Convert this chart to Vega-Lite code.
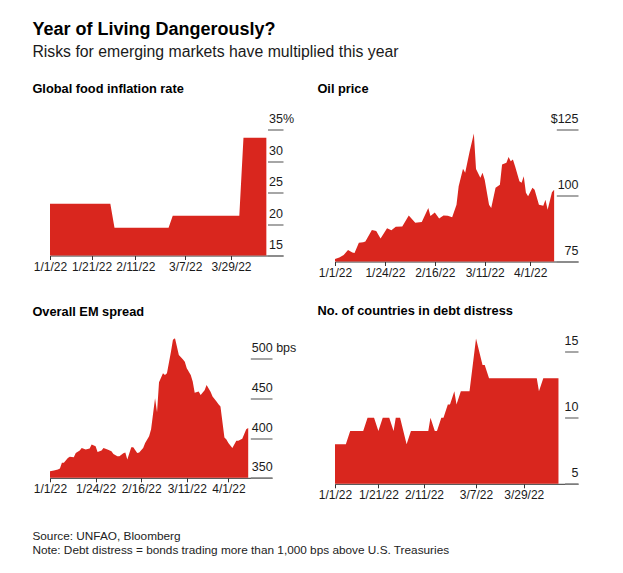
{
  "$schema": "https://vega.github.io/schema/vega-lite/v6.json",
  "background": "white",
  "padding": {"left": 32, "top": 20.5, "right": 5, "bottom": 5},
  "config": {
    "font": "Liberation Sans",
    "view": {"stroke": null},
    "axis": {"labelFont": "Liberation Sans", "labelFontSize": 12, "labelColor": "#1a1a1a", "grid": false, "title": null},
    "axisX": {"tickSize": 4, "tickColor": "#333", "domainColor": "#333", "labelPadding": 2, "labelFlush": false, "labelOverlap": false, "labelBound": false, "labelExpr": "utcFormat(datum.value, '%-m/%-d/%y')"},
    "axisY": {"orient": "right", "tickColor": "#888", "tickWidth": 1.5, "domain": false, "labelBaseline": "alphabetic", "labelOffset": -7, "labelFontSize": 12.5},
    "title": {"font": "Liberation Sans"}
  },
  "datasets": {
    "food": [
      {"date": "2022-01-01", "value": 23.2}, {"date": "2022-01-30", "value": 23.2},
      {"date": "2022-02-01", "value": 19.4}, {"date": "2022-02-27", "value": 19.4},
      {"date": "2022-03-01", "value": 21.3}, {"date": "2022-04-02", "value": 21.3},
      {"date": "2022-04-04", "value": 33.7}, {"date": "2022-04-15", "value": 33.7}
    ],
    "oil": [
      {"date": "2022-01-01", "value": 75.9}, {"date": "2022-01-03", "value": 76.5}, {"date": "2022-01-05", "value": 77.5},
      {"date": "2022-01-07", "value": 79.4}, {"date": "2022-01-09", "value": 78.4}, {"date": "2022-01-10", "value": 78.2},
      {"date": "2022-01-12", "value": 82.1}, {"date": "2022-01-14", "value": 82.3}, {"date": "2022-01-15", "value": 82.6},
      {"date": "2022-01-18", "value": 86.9}, {"date": "2022-01-20", "value": 86.6}, {"date": "2022-01-22", "value": 83.7},
      {"date": "2022-01-25", "value": 87.6}, {"date": "2022-01-27", "value": 86.8}, {"date": "2022-01-29", "value": 88.2},
      {"date": "2022-02-01", "value": 88.3}, {"date": "2022-02-04", "value": 92.4}, {"date": "2022-02-07", "value": 89.7},
      {"date": "2022-02-10", "value": 90.0}, {"date": "2022-02-13", "value": 95.3}, {"date": "2022-02-14", "value": 92.2},
      {"date": "2022-02-16", "value": 93.6}, {"date": "2022-02-18", "value": 91.3}, {"date": "2022-02-20", "value": 92.4},
      {"date": "2022-02-22", "value": 92.3}, {"date": "2022-02-24", "value": 91.8}, {"date": "2022-02-26", "value": 96.5},
      {"date": "2022-02-27", "value": 103.5}, {"date": "2022-03-01", "value": 110.1}, {"date": "2022-03-02", "value": 108.6},
      {"date": "2022-03-04", "value": 116.5}, {"date": "2022-03-06", "value": 123.5}, {"date": "2022-03-07", "value": 110.0},
      {"date": "2022-03-09", "value": 106.7}, {"date": "2022-03-10", "value": 108.6}, {"date": "2022-03-11", "value": 106.0},
      {"date": "2022-03-13", "value": 96.5}, {"date": "2022-03-14", "value": 95.3}, {"date": "2022-03-16", "value": 102.9},
      {"date": "2022-03-18", "value": 104.1}, {"date": "2022-03-19", "value": 111.7}, {"date": "2022-03-21", "value": 112.4},
      {"date": "2022-03-22", "value": 114.6}, {"date": "2022-03-23", "value": 113.0}, {"date": "2022-03-24", "value": 113.6},
      {"date": "2022-03-25", "value": 111.1}, {"date": "2022-03-27", "value": 105.4}, {"date": "2022-03-28", "value": 104.8},
      {"date": "2022-03-29", "value": 107.3}, {"date": "2022-03-30", "value": 101.0}, {"date": "2022-03-31", "value": 99.7},
      {"date": "2022-04-02", "value": 102.9}, {"date": "2022-04-03", "value": 102.2}, {"date": "2022-04-05", "value": 96.5},
      {"date": "2022-04-07", "value": 96.1}, {"date": "2022-04-08", "value": 98.4}, {"date": "2022-04-09", "value": 94.6},
      {"date": "2022-04-11", "value": 101.2}, {"date": "2022-04-12", "value": 102.2}
    ],
    "em": [
      {"date": "2022-01-01", "value": 358.3}, {"date": "2022-01-03", "value": 359.2}, {"date": "2022-01-05", "value": 360.4},
      {"date": "2022-01-06", "value": 361.7}, {"date": "2022-01-07", "value": 368.8}, {"date": "2022-01-08", "value": 368.8},
      {"date": "2022-01-10", "value": 375.0}, {"date": "2022-01-11", "value": 376.3}, {"date": "2022-01-13", "value": 375.8},
      {"date": "2022-01-14", "value": 381.3}, {"date": "2022-01-16", "value": 384.2}, {"date": "2022-01-17", "value": 387.5},
      {"date": "2022-01-19", "value": 385.4}, {"date": "2022-01-21", "value": 386.7}, {"date": "2022-01-22", "value": 391.7},
      {"date": "2022-01-24", "value": 389.6}, {"date": "2022-01-25", "value": 382.5}, {"date": "2022-01-27", "value": 384.2},
      {"date": "2022-01-28", "value": 387.5}, {"date": "2022-01-30", "value": 385.4}, {"date": "2022-02-01", "value": 383.3},
      {"date": "2022-02-02", "value": 380.0}, {"date": "2022-02-04", "value": 377.1}, {"date": "2022-02-05", "value": 377.1},
      {"date": "2022-02-07", "value": 380.8}, {"date": "2022-02-08", "value": 381.7}, {"date": "2022-02-09", "value": 372.9},
      {"date": "2022-02-11", "value": 388.3}, {"date": "2022-02-12", "value": 388.3}, {"date": "2022-02-14", "value": 381.3},
      {"date": "2022-02-15", "value": 381.7}, {"date": "2022-02-17", "value": 387.5}, {"date": "2022-02-18", "value": 393.8},
      {"date": "2022-02-20", "value": 402.1}, {"date": "2022-02-21", "value": 411.0}, {"date": "2022-02-23", "value": 450.0},
      {"date": "2022-02-24", "value": 432.5}, {"date": "2022-02-25", "value": 470.0}, {"date": "2022-02-27", "value": 481.3},
      {"date": "2022-02-28", "value": 479.2}, {"date": "2022-03-01", "value": 481.3}, {"date": "2022-03-03", "value": 508.0},
      {"date": "2022-03-04", "value": 523.0}, {"date": "2022-03-05", "value": 526.0}, {"date": "2022-03-07", "value": 504.2},
      {"date": "2022-03-09", "value": 499.0}, {"date": "2022-03-10", "value": 495.8}, {"date": "2022-03-11", "value": 487.5},
      {"date": "2022-03-13", "value": 479.0}, {"date": "2022-03-14", "value": 471.0}, {"date": "2022-03-15", "value": 457.0},
      {"date": "2022-03-17", "value": 458.3}, {"date": "2022-03-18", "value": 454.0}, {"date": "2022-03-20", "value": 460.0},
      {"date": "2022-03-21", "value": 466.7}, {"date": "2022-03-23", "value": 458.0}, {"date": "2022-03-24", "value": 452.0},
      {"date": "2022-03-26", "value": 445.8}, {"date": "2022-03-27", "value": 442.5}, {"date": "2022-03-28", "value": 439.6},
      {"date": "2022-03-30", "value": 400.5}, {"date": "2022-03-31", "value": 398.0}, {"date": "2022-04-01", "value": 393.8},
      {"date": "2022-04-03", "value": 387.5}, {"date": "2022-04-05", "value": 396.7}, {"date": "2022-04-06", "value": 396.7},
      {"date": "2022-04-08", "value": 399.2}, {"date": "2022-04-09", "value": 405.0}, {"date": "2022-04-10", "value": 411.0},
      {"date": "2022-04-11", "value": 412.5}
    ],
    "debt": [
      {"date": "2022-01-01", "value": 8}, {"date": "2022-01-06", "value": 8}, {"date": "2022-01-08", "value": 9},
      {"date": "2022-01-14", "value": 9}, {"date": "2022-01-16", "value": 10}, {"date": "2022-01-19", "value": 10},
      {"date": "2022-01-21", "value": 9}, {"date": "2022-01-23", "value": 10}, {"date": "2022-01-26", "value": 10},
      {"date": "2022-01-28", "value": 9}, {"date": "2022-01-29", "value": 10}, {"date": "2022-01-31", "value": 10},
      {"date": "2022-02-03", "value": 8}, {"date": "2022-02-05", "value": 9}, {"date": "2022-02-13", "value": 9},
      {"date": "2022-02-14", "value": 10}, {"date": "2022-02-16", "value": 9}, {"date": "2022-02-17", "value": 9},
      {"date": "2022-02-19", "value": 10}, {"date": "2022-02-20", "value": 10}, {"date": "2022-02-22", "value": 11},
      {"date": "2022-02-23", "value": 11}, {"date": "2022-02-25", "value": 12}, {"date": "2022-02-26", "value": 11},
      {"date": "2022-02-28", "value": 12}, {"date": "2022-03-04", "value": 12}, {"date": "2022-03-07", "value": 16},
      {"date": "2022-03-10", "value": 14}, {"date": "2022-03-11", "value": 14}, {"date": "2022-03-13", "value": 13},
      {"date": "2022-04-04", "value": 13}, {"date": "2022-04-05", "value": 12}, {"date": "2022-04-07", "value": 13},
      {"date": "2022-04-14", "value": 13}
    ]
  },
  "title": {
    "text": "Year of Living Dangerously?",
    "subtitle": "Risks for emerging markets have multiplied this year",
    "anchor": "start", "fontSize": 18, "fontWeight": "bold", "color": "#000",
    "subtitleFontSize": 15.8, "subtitleColor": "#1a1a1a", "subtitleFont": "Liberation Sans", "subtitlePadding": 6, "offset": 23
  },
  "spacing": 26,
  "vconcat": [
    {
      "hconcat": [
        {
          "title": {"text": "Global food inflation rate", "anchor": "start", "dx": -17.6, "fontSize": 12.8, "fontWeight": "bold", "color": "#000", "frame": "group", "baseline": "alphabetic", "offset": 6.8},
          "width": 233, "height": 126,
          "data": {"name": "food"},
          "mark": {"type": "area", "color": "#d9261e", "clip": true},
          "encoding": {
            "x": {"field": "date", "type": "temporal",
              "scale": {"type": "utc", "domain": [1640995200000, 1650672000000]},
              "axis": {"values": [1640995200000, 1642723200000, 1644537600000, 1646611200000, 1648512000000]}},
            "y": {"field": "value", "type": "quantitative",
              "scale": {"domain": [15, 35], "zero": false, "nice": false},
              "axis": {"values": [15, 20, 25, 30, 35], "offset": -15.5, "tickSize": 15.5,
                "labelAlign": "left", "labelPadding": -14.5,
                "labelExpr": "datum.value == 35 ? '35%' : datum.label"}}
          }
        },
        {
          "title": {"text": "Oil price", "anchor": "start", "dx": -17.6, "fontSize": 12.8, "fontWeight": "bold", "color": "#000", "frame": "group", "baseline": "alphabetic", "offset": 6.8},
          "width": 243, "height": 132,
          "data": {"name": "oil"},
          "mark": {"type": "area", "color": "#d9261e", "clip": true},
          "encoding": {
            "x": {"field": "date", "type": "temporal",
              "scale": {"type": "utc", "domain": [1640995200000, 1650672000000]},
              "axis": {"values": [1640995200000, 1642982400000, 1644969600000, 1646956800000, 1648771200000]}},
            "y": {"field": "value", "type": "quantitative",
              "scale": {"domain": [75, 125], "zero": false, "nice": false},
              "axis": {"values": [75, 100, 125], "offset": -21.7, "tickSize": 21.7,
                "labelAlign": "right", "labelPadding": 0,
                "labelExpr": "datum.value == 125 ? '$125' : datum.label"}}
          }
        }
      ],
      "spacing": 52,
      "bounds": "flush"
    },
    {
      "title": {"text": ["Source: UNFAO, Bloomberg", "Note: Debt distress = bonds trading more than 1,000 bps above U.S. Treasuries"], "orient": "bottom", "anchor": "start", "dx": -17.6, "fontSize": 11.8, "fontWeight": "normal", "color": "#222", "lineHeight": 14, "frame": "group", "baseline": "alphabetic", "offset": 39},
      "hconcat": [
        {
          "title": {"text": "Overall EM spread", "anchor": "start", "dx": -17.6, "fontSize": 12.8, "fontWeight": "bold", "color": "#000", "frame": "group", "baseline": "alphabetic", "offset": 10},
          "width": 222, "height": 139.3,
          "data": {"name": "em"},
          "mark": {"type": "area", "color": "#d9261e", "clip": true},
          "encoding": {
            "x": {"field": "date", "type": "temporal",
              "scale": {"type": "utc", "domain": [1640995200000, 1650672000000]},
              "axis": {"values": [1640995200000, 1642982400000, 1644969600000, 1646956800000, 1648771200000]}},
            "y": {"field": "value", "type": "quantitative",
              "scale": {"domain": [350, 525], "zero": false, "nice": false},
              "axis": {"values": [350, 400, 450, 500], "offset": -21.7, "tickSize": 21.7,
                "labelAlign": "left", "labelPadding": -20.7,
                "labelExpr": "datum.value == 500 ? '500 bps' : datum.label"}}
          }
        },
        {
          "title": {"text": "No. of countries in debt distress", "anchor": "start", "dx": -17.6, "fontSize": 12.8, "fontWeight": "bold", "color": "#000", "frame": "group", "baseline": "alphabetic", "offset": 7},
          "width": 243, "height": 145.3,
          "data": {"name": "debt"},
          "mark": {"type": "area", "color": "#d9261e", "clip": true},
          "encoding": {
            "x": {"field": "date", "type": "temporal",
              "scale": {"type": "utc", "domain": [1640995200000, 1650672000000]},
              "axis": {"values": [1640995200000, 1642723200000, 1644537600000, 1646611200000, 1648512000000]}},
            "y": {"field": "value", "type": "quantitative",
              "scale": {"domain": [5, 16], "zero": false, "nice": false},
              "axis": {"values": [5, 10, 15], "offset": -13.4, "tickSize": 13.4,
                "labelAlign": "right", "labelPadding": 0}}
          }
        }
      ],
      "spacing": 63,
      "bounds": "flush"
    }
  ]
}
